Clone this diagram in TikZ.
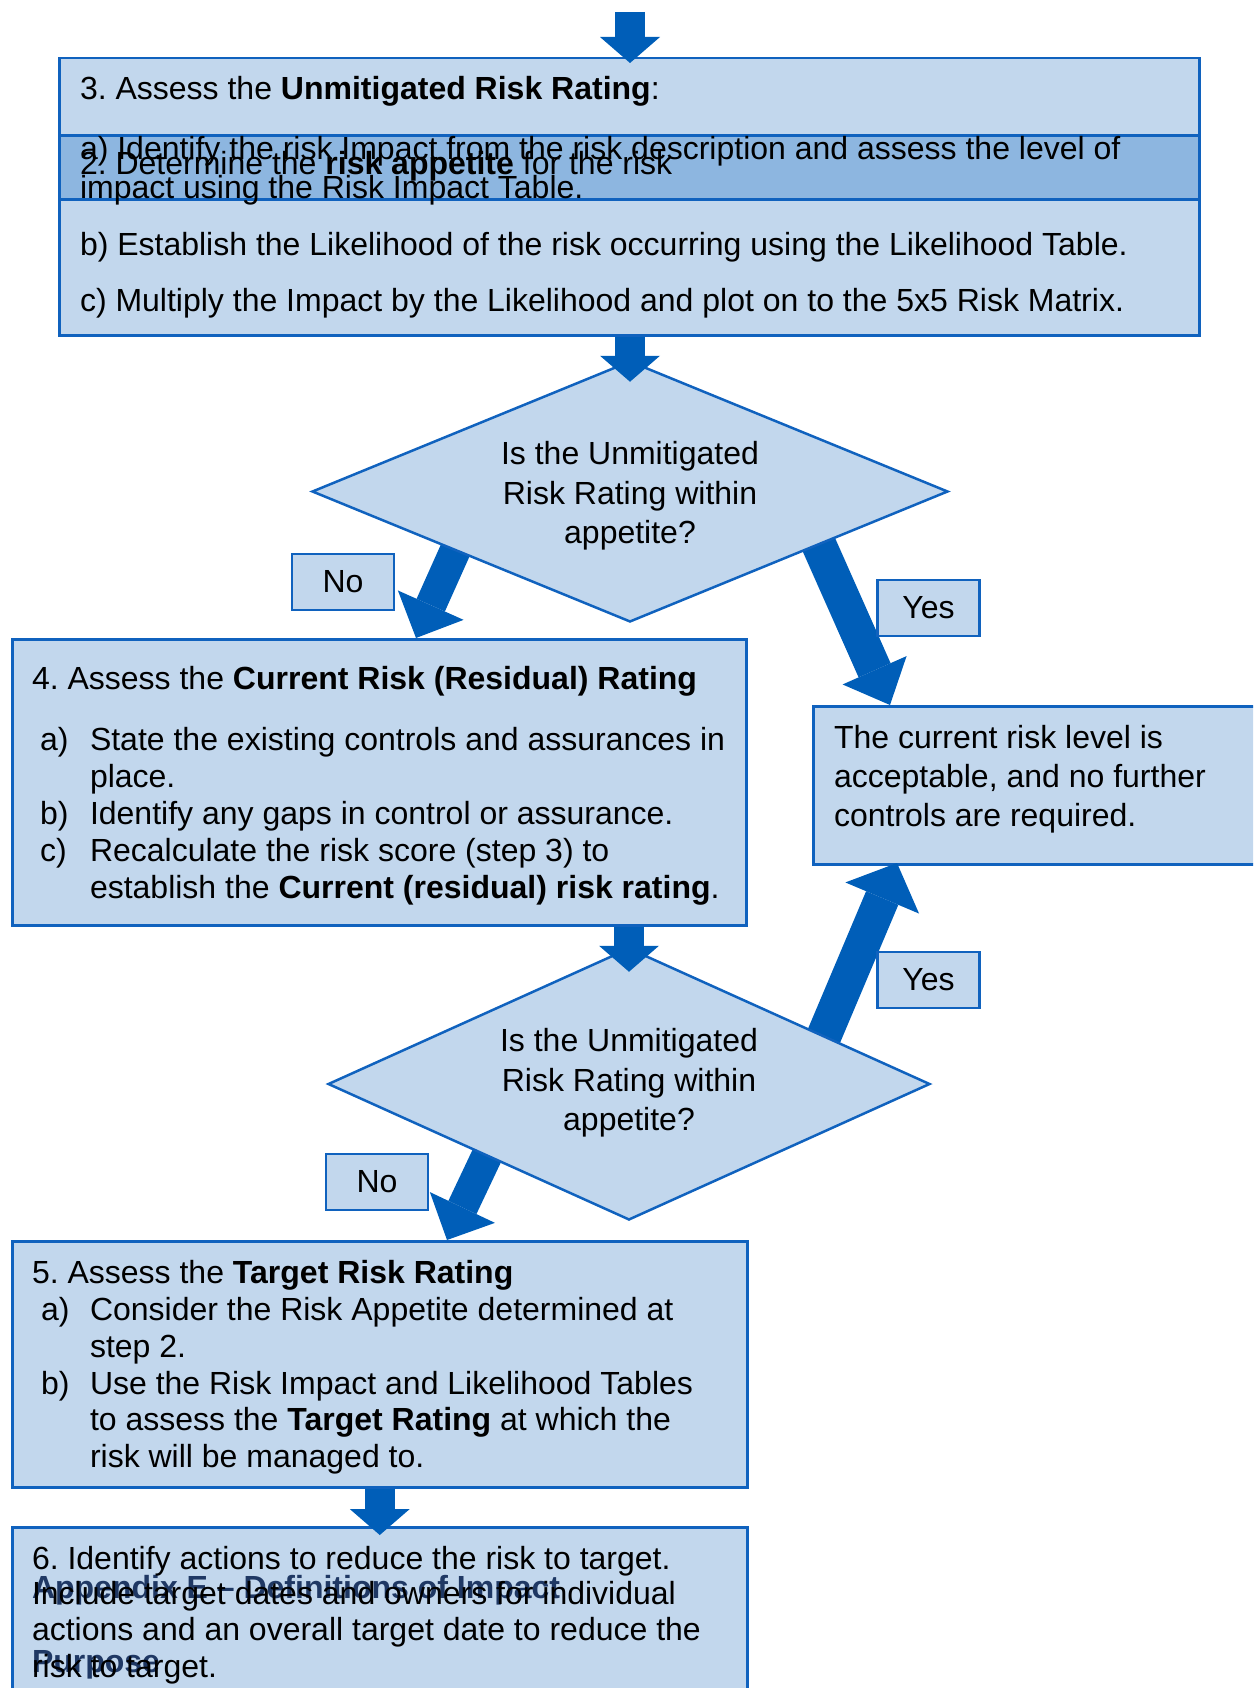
\documentclass[tikz,border=0pt]{standalone}
\usepackage{fontspec}
\setmainfont{Liberation Sans}
\usetikzlibrary{arrows.meta,shapes.geometric}
\definecolor{boxfill}{RGB}{194,215,237}
\definecolor{bandfill}{RGB}{141,182,224}
\definecolor{edge}{RGB}{16,98,190}
\definecolor{arrowblue}{RGB}{0,94,184}
\definecolor{appx}{RGB}{31,56,100}
\frenchspacing
\begin{document}
\begin{tikzpicture}[x=1pt,y=-1pt,
  every node/.style={font=\fontsize{32}{38}\selectfont},
  box/.style={draw=edge, fill=boxfill, line width=2.5pt, inner sep=0pt, anchor=north west},
  dia/.style={diamond, draw=edge, fill=boxfill, line width=2.5pt, inner sep=0pt},
  lab/.style={draw=edge, fill=boxfill, line width=2.5pt, inner sep=0pt, minimum width=102pt, minimum height=56pt},
  txt/.style={anchor=base west, inner sep=0pt, outer sep=0pt},
  ctxt/.style={anchor=base, inner sep=0pt, outer sep=0pt},
  varrow/.style={arrowblue, line width=30pt, -{Triangle[width=60pt,length=26pt,line width=0pt]}},
  noarrow/.style={arrowblue, line width=31pt, -{Triangle[width=72pt,length=36pt,line width=0pt]}},
  yesarrow/.style={arrowblue, line width=35pt, -{Triangle[width=#1,length=38pt,line width=0pt]}}
]
\useasboundingbox (0,0) rectangle (1253,1688);
\clip (0,0) rectangle (1253,1688);

% boxes
\node[box, minimum width=1140pt, minimum height=277pt] (b3) at (58,57) {};
\node[box, fill=bandfill, line width=3pt, minimum width=1140pt, minimum height=64pt] (band) at (58,134) {};
\node[box, minimum width=734pt, minimum height=286pt] (b4) at (11,638) {};
\node[box, minimum width=460pt, minimum height=158pt] (ok) at (812,705) {};
\node[box, minimum width=735pt, minimum height=246pt] (b5) at (11,1240) {};
\node[box, minimum width=735pt, minimum height=220pt] (b6) at (11,1526) {};

% connector end points
\coordinate (n1s) at (459,542);
\coordinate (n1t) at (416,638);
\coordinate (y1s) at (815,536);
\coordinate (y1t) at (890,705);
\coordinate (y2s) at (818,1050);
\coordinate (y2t) at (897,863);
\coordinate (n2s) at (500,1128);
\coordinate (n2t) at (447,1240);
\coordinate (top) at (630,12);

% diagonal arrows (behind diamonds)
\draw[noarrow] (n1s) -- (n1t);
\draw[yesarrow=70pt] (y1s) -- (y1t);
\draw[yesarrow=80pt] (y2s) -- (y2t);
\draw[noarrow] (n2s) -- (n2t);

% diamonds
\node[dia, minimum width=636pt, minimum height=261pt] (d1) at (630,491.5) {};
\node[dia, minimum width=602pt, minimum height=272pt] (d2) at (629,1084) {};

% labels
\node[lab] (no1) at (343,582) {No};
\node[lab] (yes1) at (928.5,608) {Yes};
\node[lab] (yes2) at (928.5,980) {Yes};
\node[lab] (no2) at (377,1182) {No};

% vertical arrows
\draw[varrow] (top) -- ([yshift=-6pt]b3.north -| d1.north);
\draw[varrow] (b3.south -| d1.north) -- ([yshift=-22pt]d1.north);
\draw[varrow] (b4.south -| d2.north) -- ([yshift=-25pt]d2.north);
\draw[varrow] (b5.south) -- ([yshift=-9pt]b6.north -| b5.south);

% box 3 text
\node[txt] (t31) at (80,100) {3. Assess the \textbf{Unmitigated Risk Rating}:};
\node[txt] (t2) at (80,175) {2. Determine the \textbf{risk appetite} for the risk};
\node[txt] (t32) at (80,160) {a) Identify the risk Impact from the risk description and assess the level of};
\node[txt] (t33) at (80,199) {impact using the Risk Impact Table.};
\node[txt] (t34) at (80,255) {b) Establish the Likelihood of the risk occurring using the Likelihood Table.};
\node[txt] (t35) at (80,311) {c) Multiply the Impact by the Likelihood and plot on to the 5x5 Risk Matrix.};

% diamond texts
\node[ctxt] (d1a) at (630,464) {Is the Unmitigated};
\node[ctxt] (d1b) at (630,504) {Risk Rating within};
\node[ctxt] (d1c) at (630,543) {appetite?};
\node[ctxt] (d2a) at (629,1051) {Is the Unmitigated};
\node[ctxt] (d2b) at (629,1091) {Risk Rating within};
\node[ctxt] (d2c) at (629,1130) {appetite?};

% box 4 text
\node[txt] (t41) at (32,689) {4. Assess the \textbf{Current Risk (Residual) Rating}};
\node[txt] (t42m) at (40,750) {a)};
\node[txt] (t42) at (90,750) {State the existing controls and assurances in};
\node[txt] (t43) at (90,787) {place.};
\node[txt] (t44m) at (40,824) {b)};
\node[txt] (t44) at (90,824) {Identify any gaps in control or assurance.};
\node[txt] (t45m) at (40,861) {c)};
\node[txt] (t45) at (90,861) {Recalculate the risk score (step 3) to};
\node[txt] (t46) at (90,898) {establish the \textbf{Current (residual) risk rating}.};

% acceptable box text
\node[txt] (tk1) at (834,748) {The current risk level is};
\node[txt] (tk2) at (834,787) {acceptable, and no further};
\node[txt] (tk3) at (834,826) {controls are required.};

% box 5 text
\node[txt] (t51) at (32,1283) {5. Assess the \textbf{Target Risk Rating}};
\node[txt] (t52m) at (41,1320) {a)};
\node[txt] (t52) at (90,1320) {Consider the Risk Appetite determined at};
\node[txt] (t53) at (90,1357) {step 2.};
\node[txt] (t54m) at (41,1394) {b)};
\node[txt] (t54) at (90,1394) {Use the Risk Impact and Likelihood Tables};
\node[txt] (t55) at (90,1430) {to assess the \textbf{Target Rating} at which the};
\node[txt] (t56) at (90,1467) {risk will be managed to.};

% box 6 text
\node[txt, text=appx, font=\fontsize{32}{38}\selectfont\bfseries] (ap1) at (32,1598) {Appendix E – Definitions of Impact};
\node[txt, text=appx, font=\fontsize{32}{38}\selectfont\bfseries] (ap2) at (32,1672) {Purpose};
\node[txt] (t61) at (32,1569) {6. Identify actions to reduce the risk to target.};
\node[txt] (t62) at (32,1604) {Include target dates and owners for individual};
\node[txt] (t63) at (32,1640) {actions and an overall target date to reduce the};
\node[txt] (t64) at (32,1677) {risk to target.};
\end{tikzpicture}
\end{document}
